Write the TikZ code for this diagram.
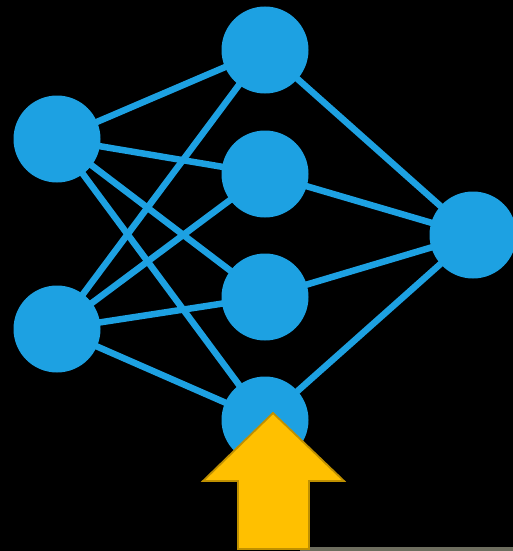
\documentclass[tikz,border=0pt]{standalone}
\usetikzlibrary{backgrounds}
\definecolor{nnblue}{RGB}{29,161,226}
\definecolor{arrowfill}{RGB}{255,192,0}
\definecolor{arrowedge}{RGB}{191,144,0}
\definecolor{strip}{RGB}{110,110,95}
\begin{document}
\begin{tikzpicture}[x=1pt,y=-1pt,
  neuron/.style={circle,fill=nnblue,minimum size=87pt,inner sep=0pt},
  link/.style={draw=nnblue,line width=6.5pt}]
\useasboundingbox (0,0) rectangle (513,551);
% nodes
\node[neuron] (i1) at (57,139) {};
\node[neuron] (i2) at (57,329) {};
\node[neuron] (h1) at (265,50) {};
\node[neuron] (h2) at (265,174) {};
\node[neuron] (h3) at (265,297) {};
\node[neuron] (h4) at (265,420) {};
\node[neuron] (o) at (473,235) {};
% background and links behind the nodes
\begin{scope}[on background layer]
\fill[black] (0,0) rectangle (513,551);
\fill[strip] (300,547) rectangle (513,551);
\foreach \a in {i1,i2}{
  \foreach \b in {h1,h2,h3,h4}{
    \draw[link] (\a.center) -- (\b.center);
  }
}
\foreach \b in {h1,h2,h3,h4}{
  \draw[link] (\b.center) -- (o.center);
}
\end{scope}
% arrow
\coordinate (tip) at (273,413);
\draw[fill=arrowfill,draw=arrowedge,line width=1.8pt,line join=miter]
  (tip) -- (344,481) -- (309,481) -- (309,549) -- (238,549) -- (238,481) -- (203,481) -- cycle;
\end{tikzpicture}
\end{document}
